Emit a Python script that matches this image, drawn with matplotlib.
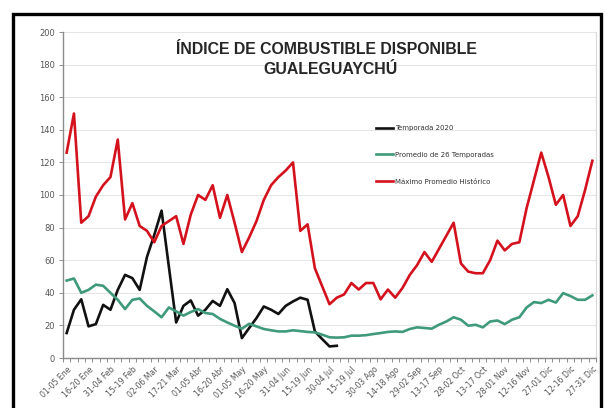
import matplotlib
matplotlib.use('Agg')
import matplotlib.pyplot as plt
from matplotlib.patches import Rectangle
from matplotlib.ticker import MultipleLocator

# pentads across the year (73), labels every third one
tick_labels = ['01-05 Ene', '16-20 Ene', '31-04 Feb', '15-19 Feb', '02-06 Mar', '17-21 Mar',
               '01-05 Abr', '16-20 Abr', '01-05 May', '16-20 May', '31-04 Jun', '15-19 Jun',
               '30-04 Jul', '15-19 Jul', '30-03 Ago', '14-18 Ago', '29-02 Sep', '13-17 Sep',
               '28-02 Oct', '13-17 Oct', '28-01 Nov', '12-16 Nov', '27-01 Dic', '12-16 Dic',
               '27-31 Dic']

temporada_2020 = [15.3, 29.6, 36, 19.4, 20.8, 32.6, 29.6, 41.8, 51, 49, 41.8, 62, 75.5, 90.4,
                  56, 21.8, 32, 35.3, 26, 29.6, 35, 32, 42.2, 33.7, 12.2, 18.4, 24.5, 31.6,
                  29.6, 27, 32, 34.7, 37, 35.7, 16.3, 11.6, 7.1, 7.5]

promedio = [47.5, 48.8, 40, 41.8, 45, 44.3, 40, 35.7, 30, 35.7, 36.5, 32, 28.6, 25, 31, 28.6,
            26, 28.2, 30, 27.6, 27, 24, 21.8, 19.8, 18, 21, 19.4, 17.8, 17, 16.3, 16.3, 17,
            16.5, 16, 15.7, 14.3, 12.7, 12.5, 12.7, 13.7, 13.7, 14, 14.7, 15.3, 16, 16.3, 16,
            17.8, 18.8, 18.4, 18, 20.4, 22.4, 25, 23.5, 19.8, 20.4, 18.8, 22.4, 23, 20.8, 23.5,
            25, 31, 34.3, 33.7, 35.7, 34, 39.8, 38, 35.7, 35.7, 38.4]

maximo = [126, 150, 83, 87, 99, 106, 111, 134, 85, 95, 81, 78, 71, 81, 84, 87, 70, 88, 100,
          97, 106, 86, 100, 83, 65, 74, 84, 97, 106, 111, 115, 120, 78, 82, 55, 44, 33, 37,
          39, 46, 42, 46, 46, 36, 42, 37, 43, 51, 57, 65, 59, 67, 75, 83, 58, 53, 52, 52, 60,
          72, 66, 70, 71, 92, 109, 126, 111, 94, 100, 81, 87, 103, 121]

W, H = 611, 408
fig = plt.figure(figsize=(W / 100, H / 100), dpi=100)
ax = fig.add_axes([63 / W, 1 - 358 / H, (596 - 63) / W, (358 - 32) / H])

gray = '#8c8c8c'
ax.plot(range(len(temporada_2020)), temporada_2020, color='#111111', lw=1.9, label='Temporada 2020')
ax.plot(range(len(promedio)), promedio, color='#3f9a7a', lw=1.9, label='Promedio de 26 Temporadas')
ax.plot(range(len(maximo)), maximo, color='#d4121e', lw=1.9, label='Máximo Promedio Histórico')

ax.set_ylim(0, 200)
ax.set_xlim(-0.5, len(maximo) - 0.5)
ax.yaxis.set_major_locator(MultipleLocator(20))
ax.grid(axis='y', color='#e6e6e6', lw=0.8)
ax.set_axisbelow(True)

ax.set_xticks(range(0, len(maximo), 3))
ax.set_xticklabels(tick_labels, rotation=45, ha='right', rotation_mode='anchor',
                   fontsize=5.6, color='#555555')
ax.set_xticks([i - 0.5 for i in range(len(maximo) + 1)], minor=True)
ax.tick_params(axis='x', which='major', length=0, pad=5)
ax.tick_params(axis='x', which='minor', length=3, color=gray, width=0.7)
ax.tick_params(axis='y', length=3, color=gray, width=0.7, labelsize=6, labelcolor='#555555', pad=3)

for s in ['left', 'bottom']:
    ax.spines[s].set_color(gray)
    ax.spines[s].set_linewidth(1.0)
ax.spines['right'].set_color('#d8d8d8')
ax.spines['top'].set_visible(False)

title_font = ['Liberation Sans', 'DejaVu Sans']
fig.text(326 / W, 1 - 50 / H, 'ÍNDICE DE COMBUSTIBLE DISPONIBLE', ha='center', va='center',
         fontsize=11.4, fontweight='bold', color='#262626', family=title_font)
fig.text(330 / W, 1 - 69 / H, 'GUALEGUAYCHÚ', ha='center', va='center',
         fontsize=11.4, fontweight='bold', color='#262626', family=title_font)

ax.legend(loc='upper left', bbox_to_anchor=(376 / W, 1 - 125 / H), bbox_transform=fig.transFigure,
          frameon=False, fontsize=5, handlelength=2.4, handletextpad=0.3, labelspacing=3.0,
          borderpad=0, borderaxespad=0, labelcolor='#333333')

# black frame of the screenshot
fig.patches.append(Rectangle((13 / W, -0.05), (601 - 13) / W, 1.05 - 14 / H,
                             transform=fig.transFigure, fill=False, ec='black', lw=2.4))

fig.savefig('out.png', dpi=100, facecolor='white')
